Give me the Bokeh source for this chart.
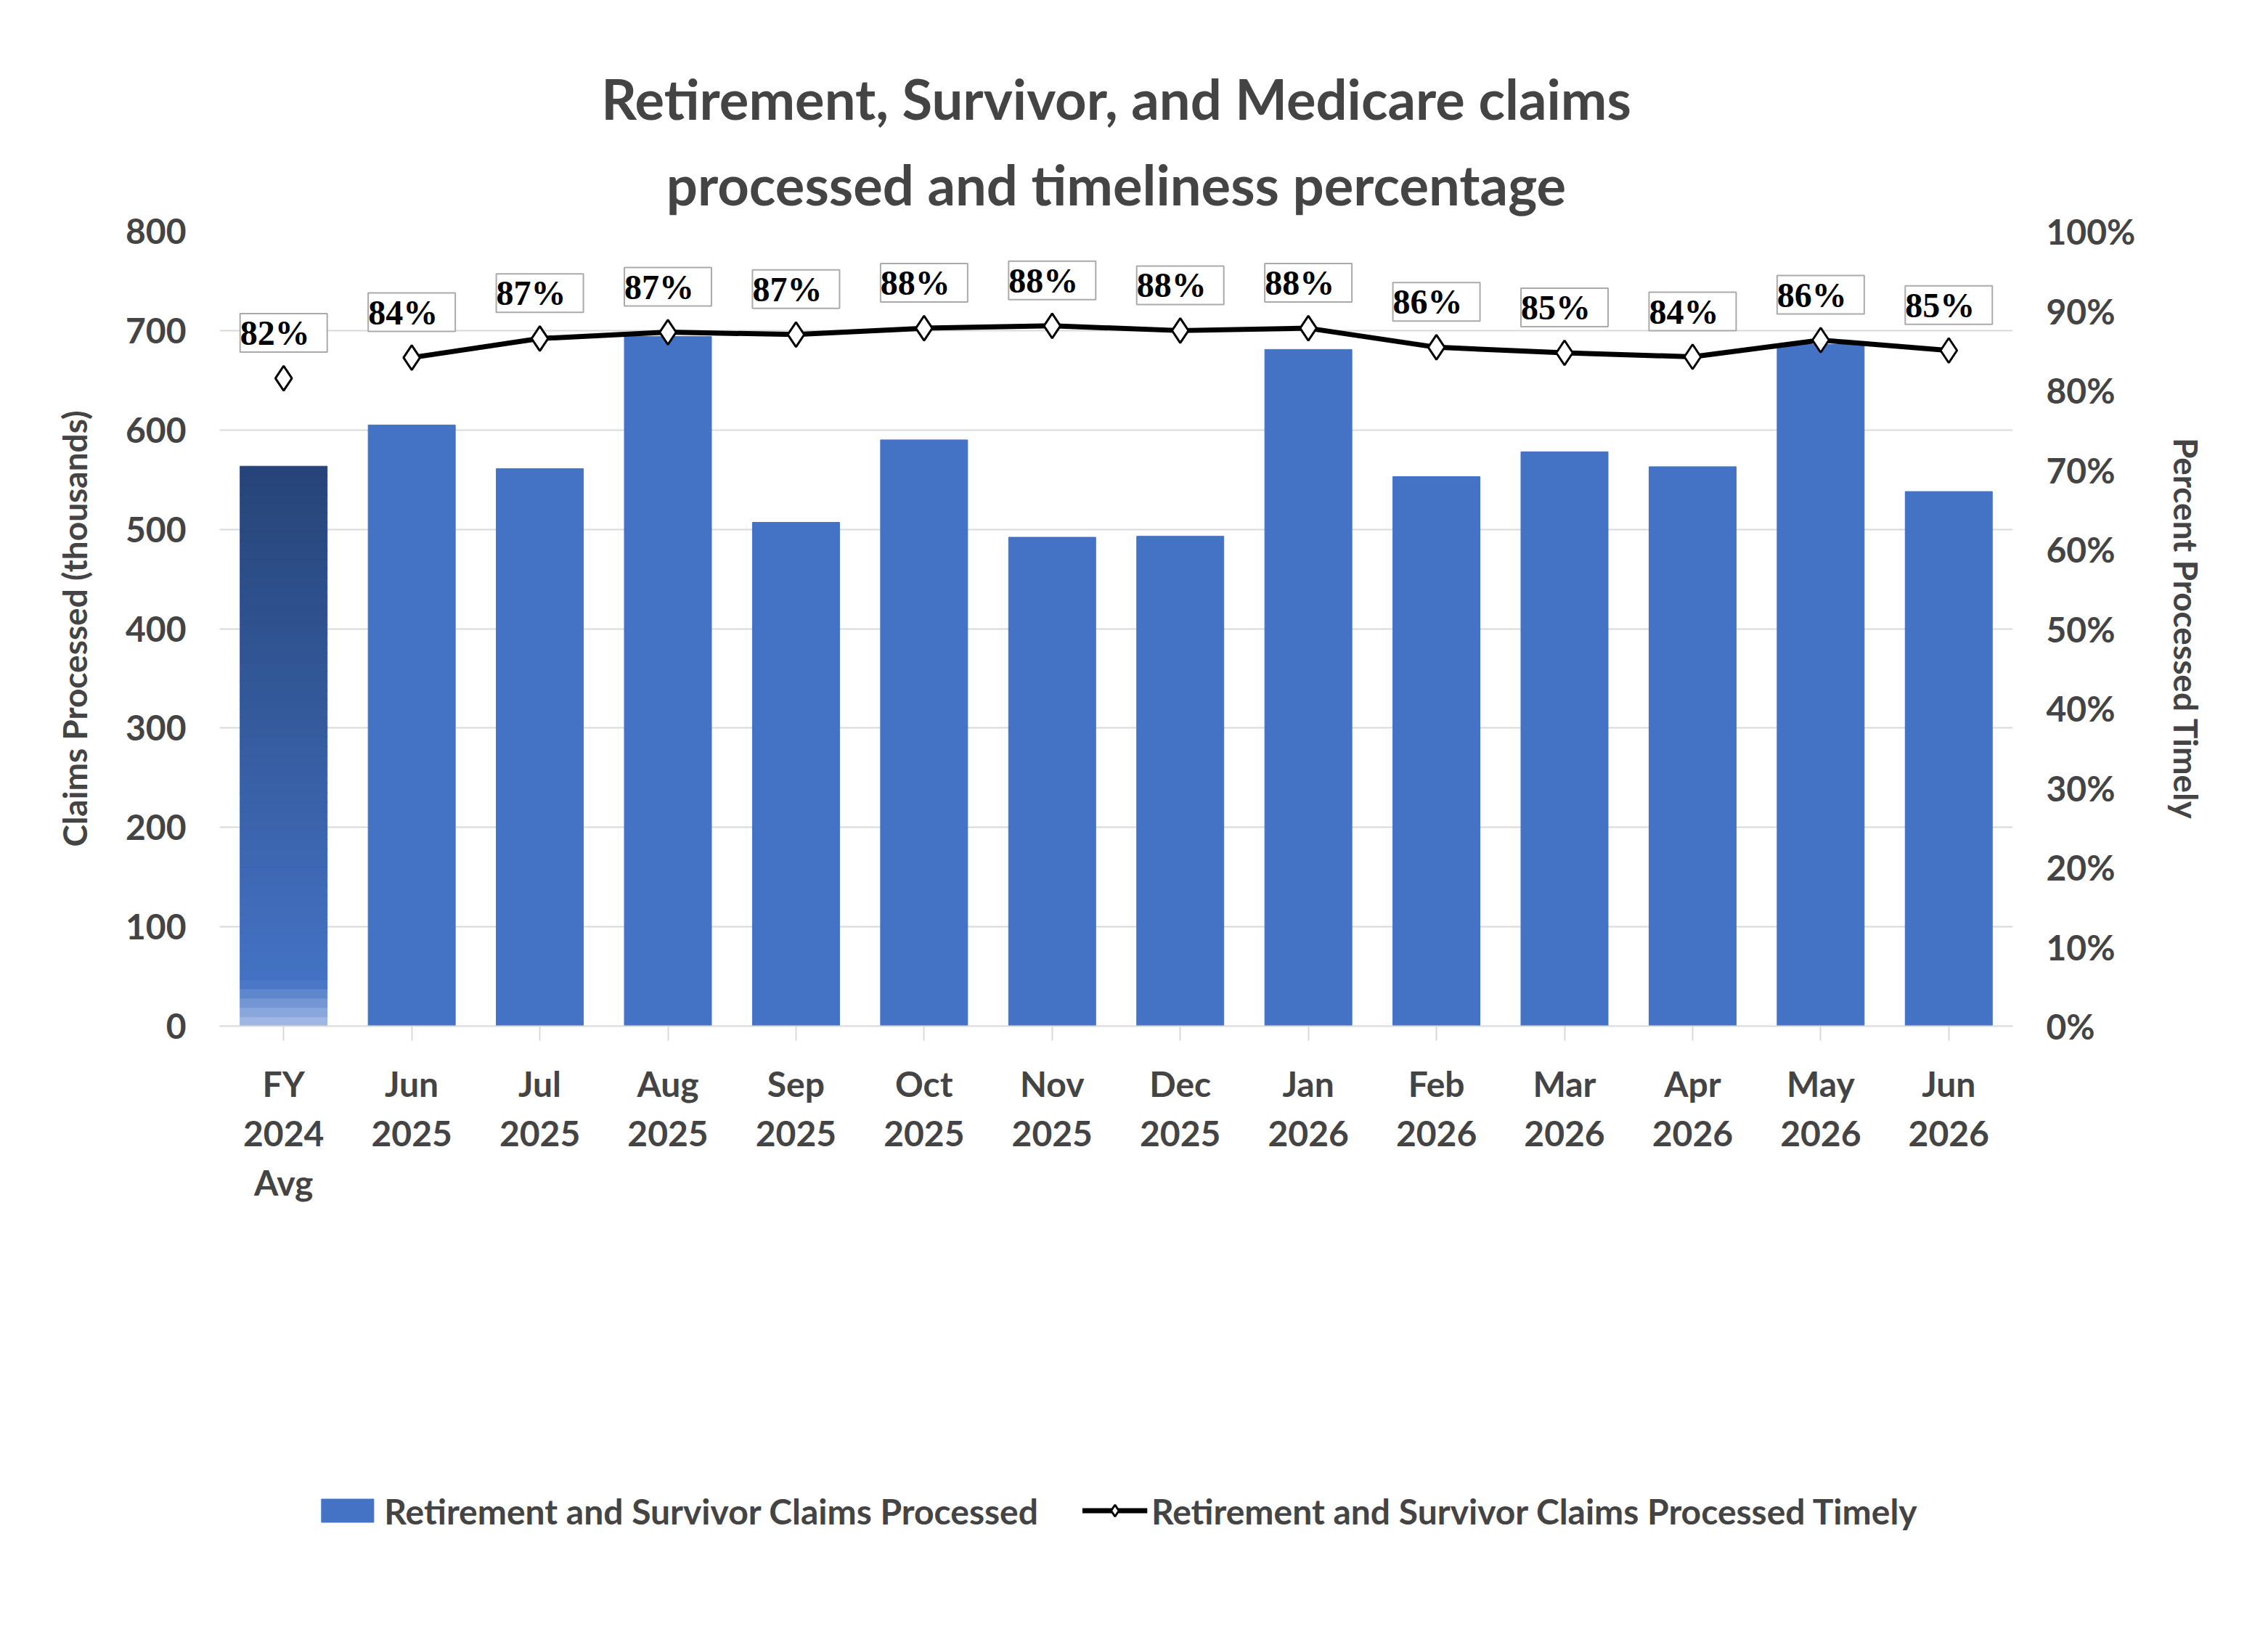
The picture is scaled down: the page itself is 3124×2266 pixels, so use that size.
from bokeh.plotting import figure
from bokeh.models import (FactorRange, Range1d, LinearAxis, ColumnDataSource, LabelSet,
                          Legend, LegendItem, FixedTicker, Title, CustomJSTickFormatter)
from bokeh.embed import file_html
from bokeh.resources import INLINE
import numpy as np

labels = ["FY\n2024\nAvg", "Jun\n2025", "Jul\n2025", "Aug\n2025", "Sep\n2025", "Oct\n2025", "Nov\n2025",
          "Dec\n2025", "Jan\n2026", "Feb\n2026", "Mar\n2026", "Apr\n2026", "May\n2026", "Jun\n2026"]
claims = [563, 605, 561, 694, 507, 590, 492, 493, 681, 553, 578, 563, 686, 538]
timely = [81.5, 84.1, 86.5, 87.3, 87.0, 87.8, 88.1, 87.5, 87.8, 85.4, 84.7, 84.2, 86.3, 85.0]
timely_labels = [" 82% ", " 84% ", " 87% ", " 87% ", " 87% ", " 88% ", " 88% ", " 88% ", " 88% ",
                 " 86% ", " 85% ", " 84% ", " 86% ", " 85% "]

FONT = "Lato"
p = figure(width=3100, height=2240, x_range=FactorRange(*labels), y_range=Range1d(0, 800),
           output_backend="svg", toolbar_location=None,
           min_border_left=302, min_border_right=328, min_border_top=318, min_border_bottom=200)
p.outline_line_color = None
p.extra_y_ranges = {"pct": Range1d(0, 100)}

p.add_layout(Title(text="processed and timeliness percentage", align="center", text_font=FONT,
                   text_font_size="76px", text_font_style="bold", standoff=40), "above")
p.add_layout(Title(text="Retirement, Survivor, and Medicare claims", align="center", text_font=FONT,
                   text_font_size="76px", text_font_style="bold"), "above")

src = ColumnDataSource(dict(x=labels[1:], top=claims[1:]))
bars = p.vbar(x="x", top="top", width=0.68, source=src, color="#4472C4")

n = 60
v = claims[0]
edges = np.linspace(0, v, n + 1)
dark = np.array([0x26, 0x44, 0x78]); light = np.array([0xA9, 0xBE, 0xE8]); mid = np.array([0x44, 0x72, 0xC4])
cols = []
for i in range(n):
    t = (i + 0.5) / n
    if t < 0.08:
        c = light + (mid - light) * (t / 0.08)
    else:
        c = mid + (dark - mid) * ((t - 0.08) / 0.92)
    cols.append("#%02x%02x%02x" % tuple(int(round(k)) for k in c))
p.vbar(x=[labels[0]] * n, bottom=edges[:-1], top=edges[1:] + 0.5, width=0.68, color=cols)

line = p.line(x=labels[1:], y=timely[1:], y_range_name="pct", line_color="black", line_width=7)
sc = p.scatter(x=labels, y=timely, y_range_name="pct", marker="diamond", size=34,
               fill_color="white", line_color="black", line_width=3)

lsrc = ColumnDataSource(dict(x=labels, y=timely, t=timely_labels))
p.add_layout(LabelSet(x="x", y="y", text="t", source=lsrc, y_range_name="pct", y_offset=36,
                      text_align="center", text_baseline="bottom", text_font=FONT,
                      text_font_size="48px", text_font_style="bold", text_color="black",
                      background_fill_color="white", border_line_color="#AAAAAA", border_line_width=2))

p.yaxis.ticker = FixedTicker(ticks=list(range(0, 801, 100)))
p.ygrid.ticker = FixedTicker(ticks=list(range(0, 801, 100)))
p.ygrid.grid_line_color = "#D9D9D9"
p.ygrid.grid_line_width = 2
p.xgrid.grid_line_color = None
p.yaxis.axis_label = "Claims Processed (thousands)"
ra = LinearAxis(y_range_name="pct", axis_label="Percent Processed Timely",
                ticker=FixedTicker(ticks=list(range(0, 101, 10))),
                formatter=CustomJSTickFormatter(code="return tick + '%';"))
p.add_layout(ra, "right")
for ax in [p.yaxis[0], ra]:
    ax.axis_line_color = None
    ax.major_tick_line_color = None
    ax.minor_tick_line_color = None
    ax.major_label_text_font = FONT
    ax.major_label_text_font_size = "48px"
    ax.major_label_text_font_style = "bold"
    ax.axis_label_text_font = FONT
    ax.axis_label_text_font_size = "46px"
    ax.axis_label_text_font_style = "bold"
    ax.major_label_standoff = 40
    ax.axis_label_standoff = 40
p.xaxis.axis_line_color = "#D9D9D9"
p.xaxis.axis_line_width = 2
p.xaxis.major_tick_line_color = "#D9D9D9"
p.xaxis.major_tick_line_width = 2
p.xaxis.major_tick_out = 20
p.xaxis.major_tick_in = 0
p.xaxis.major_label_text_font = FONT
p.xaxis.major_label_text_font_size = "48px"
p.xaxis.major_label_text_font_style = "bold"
p.xaxis.major_label_standoff = 30

legend = Legend(items=[LegendItem(label="Retirement and Survivor Claims Processed", renderers=[bars]),
                       LegendItem(label="Retirement and Survivor Claims Processed Timely", renderers=[line, sc])],
                orientation="horizontal", location="center", label_text_font=FONT,
                label_text_font_size="48px", label_text_font_style="bold", border_line_color=None,
                glyph_width=90, glyph_height=40, spacing=60, label_standoff=6, margin=40)
p.add_layout(legend, "below")

open("out.html", "w").write(file_html(p, INLINE))
